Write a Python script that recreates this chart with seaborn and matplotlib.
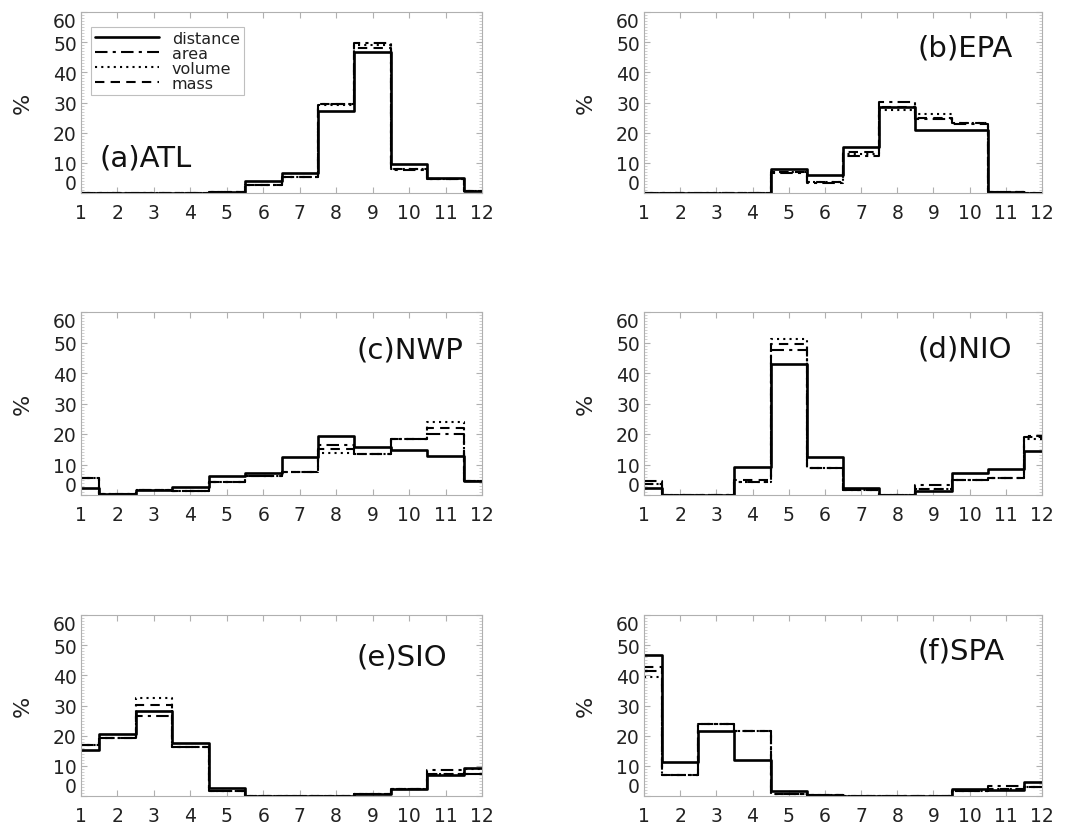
import matplotlib
matplotlib.use("Agg")
import matplotlib.pyplot as plt
import seaborn as sns
import numpy as np
import pandas as pd

months = list(range(1, 13))
series_names = ["distance", "area", "volume", "mass"]
panel_titles = ["(a)ATL", "(b)EPA", "(c)NWP", "(d)NIO", "(e)SIO", "(f)SPA"]

# (a) ATL
atl_distance = [0, 0, 0, 0, 0.2, 4.0, 6.6, 27.1, 46.7, 9.7, 5.1, 0.7]
atl_area     = [0, 0, 0, 0, 0.3, 2.5, 5.3, 29.6, 49.7, 7.7, 4.7, 0.7]
atl_volume   = [0, 0, 0, 0, 0.3, 2.6, 5.4, 29.2, 49.2, 7.9, 4.7, 0.7]
atl_mass     = [0, 0, 0, 0, 0.3, 2.5, 5.3, 29.4, 48.2, 7.8, 4.7, 0.7]
# (b) EPA
epa_distance = [0, 0, 0, 0, 8.0, 6.0, 15.2, 28.5, 21.0, 20.8, 0.2, 0]
epa_area     = [0, 0, 0, 0, 6.7, 3.4, 12.2, 30.3, 24.5, 23.0, 0.2, 0]
epa_volume   = [0, 0, 0, 0, 7.1, 3.6, 13.0, 27.4, 26.1, 23.3, 0.2, 0]
epa_mass     = [0, 0, 0, 0, 6.9, 3.5, 13.7, 28.5, 25.0, 23.1, 0.2, 0]
# (c) NWP
nwp_distance = [2.4, 0.4, 1.5, 2.6, 6.2, 7.3, 12.3, 19.2, 15.6, 14.8, 12.8, 4.6]
nwp_area     = [5.7, 0.4, 1.5, 1.2, 4.4, 6.2, 7.7, 16.4, 13.4, 18.3, 20.0, 4.6]
nwp_volume   = [5.7, 0.4, 1.5, 1.2, 4.4, 6.2, 7.7, 13.7, 13.4, 18.3, 23.8, 4.6]
nwp_mass     = [5.7, 0.4, 1.5, 1.2, 4.4, 6.2, 7.7, 15.0, 13.4, 18.3, 21.9, 4.6]
# (d) NIO
nio_distance = [2.4, 0, 0, 9.2, 43.0, 12.5, 2.4, 0, 1.3, 7.1, 8.4, 14.5]
nio_area     = [4.6, 0, 0, 4.1, 47.7, 9.0, 1.6, 0, 3.3, 4.9, 5.5, 19.4]
nio_volume   = [3.5, 0, 0, 4.1, 51.2, 9.0, 1.6, 0, 1.9, 4.9, 5.5, 18.4]
nio_mass     = [3.5, 0, 0, 4.8, 49.6, 9.0, 1.6, 0, 1.9, 4.9, 5.5, 18.9]
# (e) SIO
sio_distance = [15.4, 20.6, 28.3, 17.5, 2.8, 0, 0, 0, 0.8, 2.4, 6.8, 9.3]
sio_area     = [16.8, 19.3, 26.4, 16.2, 1.7, 0, 0, 0, 0.8, 2.4, 8.5, 7.2]
sio_volume   = [16.8, 19.3, 32.4, 16.2, 1.7, 0, 0, 0, 0.8, 2.4, 7.4, 8.8]
sio_mass     = [16.8, 19.3, 30.2, 16.2, 1.7, 0, 0, 0, 0.8, 2.4, 7.4, 7.4]
# (f) SPA
spa_distance = [46.7, 11.2, 21.4, 11.8, 1.5, 0.4, 0, 0, 0, 2.4, 1.9, 4.6]
spa_area     = [41.6, 6.8, 23.9, 21.7, 0.8, 0.4, 0, 0, 0, 1.5, 3.2, 3.0]
spa_volume   = [39.4, 6.8, 23.9, 21.7, 0.8, 0.4, 0, 0, 0, 1.5, 2.4, 3.0]
spa_mass     = [42.7, 6.8, 23.9, 21.7, 0.8, 0.4, 0, 0, 0, 1.5, 2.4, 3.0]

panel_data = [
    [atl_distance, atl_area, atl_volume, atl_mass],
    [epa_distance, epa_area, epa_volume, epa_mass],
    [nwp_distance, nwp_area, nwp_volume, nwp_mass],
    [nio_distance, nio_area, nio_volume, nio_mass],
    [sio_distance, sio_area, sio_volume, sio_mass],
    [spa_distance, spa_area, spa_volume, spa_mass],
]

sns.set_style("white")
plt.rcParams['font.family'] = ['DejaVu Sans']

styles = {
    "distance": dict(linestyle="-", lw=1.9),
    "area": dict(linestyle=(0, (6, 2.5, 1.5, 2.5)), lw=1.5),
    "volume": dict(linestyle=(0, (1, 2)), lw=1.5),
    "mass": dict(linestyle=(0, (4.5, 3)), lw=1.5),
}

fig = plt.figure(figsize=(10.67, 8.37), dpi=100)

W, H = 1067.0, 837.0
cols = [(81, 482), (644, 1042)]
rows = [(13, 194), (313, 496), (616, 797)]
title_pos = [(0.047, 0.15), (0.686, 0.757), (0.688, 0.754),
             (0.686, 0.757), (0.688, 0.724), (0.686, 0.757)]

frame_col = "#b0b0b0"
tick_fs = 13.5
for i in range(6):
    r, c = divmod(i, 2)
    x0, x1 = cols[c]
    y0, y1 = rows[r]
    ax = fig.add_axes([x0 / W, 1 - y1 / H, (x1 - x0) / W, (y1 - y0) / H])
    for name, vals in zip(series_names, panel_data[i]):
        df = pd.DataFrame({"month": months, "pct": vals})
        sns.lineplot(data=df, x="month", y="pct", ax=ax, color="black",
                     drawstyle="steps-mid", estimator=None, label=name,
                     legend=False, **styles[name])
    ax.set_xlim(1, 12)
    ax.set_ylim(0, 60)
    ax.set_xticks(months)
    ax.set_xticklabels([str(m) for m in months])
    ax.set_yticks(range(0, 61, 10))
    ax.set_yticks(range(0, 61, 1), minor=True)
    ax.tick_params(axis="both", which="major", direction="in", length=4,
                   color=frame_col, width=0.8, labelsize=tick_fs, labelcolor="#222222")
    ax.tick_params(axis="y", which="major", pad=3, right=True, left=True)
    ax.tick_params(axis="x", which="major", pad=7, top=True, bottom=True)
    ax.tick_params(axis="y", which="minor", direction="in", length=2,
                   color="#c8c8c8", width=0.6, right=True, left=True)
    labs = ax.get_yticklabels()
    labs[0].set_va("bottom")
    labs[-1].set_va("top")
    for sp in ax.spines.values():
        sp.set_color(frame_col)
        sp.set_linewidth(0.8)
    ax.set_xlabel("")
    ax.set_ylabel("%", fontsize=16, color="#222222")
    ax.yaxis.set_label_coords(-0.12, 0.5)
    tx, ty = title_pos[i]
    ax.text(tx, ty, panel_titles[i], transform=ax.transAxes, fontsize=21,
            va="baseline", ha="left", color="#111111")
    if i == 0:
        leg = ax.legend(loc="upper left", bbox_to_anchor=(0.025, 0.917),
                        fontsize=11.5, frameon=True, fancybox=False,
                        handlelength=4.0, handletextpad=0.8,
                        labelspacing=0.0, borderpad=0.25, borderaxespad=0)
        leg.get_frame().set_edgecolor(frame_col)
        leg.get_frame().set_linewidth(0.8)
        for t in leg.get_texts():
            t.set_color("#222222")

fig.savefig("out.png", dpi=100)
